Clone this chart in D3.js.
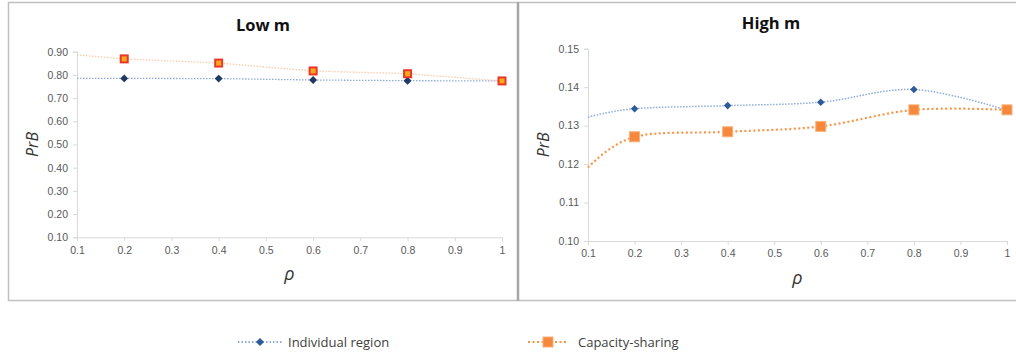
<!DOCTYPE html>
<html>
<head>
<meta charset="utf-8">
<script src="https://cdn.jsdelivr.net/npm/d3@7"></script>
<style>
  body { margin: 0; background: #fff; }
  svg { display: block; font-family: "Open Sans", "Liberation Sans", sans-serif; }
  .axis path, .axis line { stroke: #d9d9d9; }
  .axis text { fill: #595959; font-size: 10.5px; }
</style>
</head>
<body>
<div id="chart"></div>
<script>
// data
var rho = [0.1, 0.2, 0.4, 0.6, 0.8, 1];
var lowIndividual = [0.785, 0.785, 0.784, 0.778, 0.775, 0.774];
var lowCapacity   = [0.886, 0.869, 0.851, 0.817, 0.805, 0.774];
var highIndividual = [0.1322, 0.1344, 0.1352, 0.1361, 0.1394, 0.1340];
var highCapacity   = [0.1191, 0.1271, 0.1284, 0.1298, 0.1341, 0.1341];
var xTicks = [0.1, 0.2, 0.3, 0.4, 0.5, 0.6, 0.7, 0.8, 0.9, 1];
var yTicksLow = [0.1, 0.2, 0.3, 0.4, 0.5, 0.6, 0.7, 0.8, 0.9];
var yTicksHigh = [0.10, 0.11, 0.12, 0.13, 0.14, 0.15];
var seriesNames = ["Individual region", "Capacity-sharing"];

var width = 1016, height = 354;
var svg = d3.select('#chart').append('svg')
    .attr('width', width)
    .attr('height', height);

// panel frames
svg.append('rect').attr('x', 8.5).attr('y', 2.5).attr('width', 1020).attr('height', 298)
    .attr('fill', 'none').attr('stroke', '#c0c0c0').attr('stroke-width', 1.5);
svg.append('line').attr('x1', 518).attr('x2', 518).attr('y1', 2).attr('y2', 301)
    .attr('stroke', '#a6a6a6').attr('stroke-width', 2.5);

function drawPanel(opts) {
    var x = d3.scaleLinear().domain([0.1, 1]).range([opts.left, opts.right]);
    var y = d3.scaleLinear().domain(opts.yDomain).range([opts.bottom, opts.top]);

    svg.append('g')
        .attr('class', 'axis')
        .attr('transform', `translate(0,${opts.bottom})`)
        .call(d3.axisBottom(x).tickValues(xTicks).tickSize(4).tickPadding(5)
            .tickFormat(function(d) { return d === 1 ? '1' : d3.format('.1f')(d); }));

    svg.append('g')
        .attr('class', 'axis')
        .attr('transform', `translate(${opts.left},0)`)
        .call(d3.axisLeft(y).tickValues(opts.yTicks).tickSize(4).tickPadding(5)
            .tickFormat(d3.format('.2f')));

    // title and axis labels
    svg.append('text').attr('x', opts.titleX).attr('y', opts.titleY)
        .attr('text-anchor', 'middle').attr('font-size', 16.5).attr('font-weight', 'bold')
        .attr('fill', '#111').text(opts.title);
    svg.append('text')
        .attr('transform', `translate(${opts.yLabelX},${(opts.top + opts.bottom) / 2}) rotate(-90)`)
        .attr('text-anchor', 'middle').attr('font-size', 16).attr('font-style', 'italic')
        .attr('fill', '#333').text('PrB');
    svg.append('text').attr('x', (opts.left + opts.right) / 2).attr('y', opts.bottom + 43)
        .attr('text-anchor', 'middle').attr('font-size', 18).attr('font-style', 'italic')
        .attr('fill', '#333').text('ρ');

    var line = d3.line()
        .x(function(d, i) { return x(rho[i]); })
        .y(function(d) { return y(d); })
        .curve(opts.smooth ? d3.curveCardinal.tension(0) : d3.curveLinear);

    svg.append('path').datum(opts.individual)
        .attr('d', line).attr('fill', 'none')
        .attr('stroke', '#8eaadb').attr('stroke-width', opts.blueWidth)
        .attr('stroke-dasharray', opts.blueDash);
    svg.append('path').datum(opts.capacity)
        .attr('d', line).attr('fill', 'none')
        .attr('stroke', opts.orangeLine).attr('stroke-width', opts.orangeWidth)
        .attr('stroke-dasharray', opts.orangeDash);

    // markers (first point has none)
    var pts = rho.slice(1);
    svg.append('g').selectAll('path')
        .data(pts)
        .enter()
        .append('path')
        .attr('d', d3.symbol().type(d3.symbolDiamond2).size(opts.diamondSize))
        .attr('transform', function(d, i) { return `translate(${x(d)},${y(opts.individual[i + 1])})`; })
        .attr('fill', opts.diamondFill);

    var s = opts.squareSize;
    svg.append('g').selectAll('rect')
        .data(pts)
        .enter()
        .append('rect')
        .attr('x', function(d) { return x(d) - s / 2; })
        .attr('y', function(d, i) { return y(opts.capacity[i + 1]) - s / 2; })
        .attr('width', s).attr('height', s)
        .attr('fill', opts.squareFill)
        .attr('stroke', opts.squareStroke).attr('stroke-width', opts.squareStrokeWidth);
}

drawPanel({
    left: 77, right: 502, top: 51.7, bottom: 237.3,
    yDomain: [0.1, 0.9], yTicks: yTicksLow,
    title: 'Low m', titleX: 263, titleY: 31, yLabelX: 38,
    individual: lowIndividual, capacity: lowCapacity, smooth: false,
    blueWidth: 1.3, blueDash: '1.5,1.5',
    orangeLine: '#f8cbad', orangeWidth: 1.3, orangeDash: '1.5,1.5',
    diamondSize: 40, diamondFill: '#1f3864',
    squareSize: 7, squareFill: '#f7a81b', squareStroke: '#e8382a', squareStrokeWidth: 2
});

drawPanel({
    left: 588, right: 1007, top: 48.7, bottom: 241,
    yDomain: [0.1, 0.15], yTicks: yTicksHigh,
    title: 'High m', titleX: 771, titleY: 29, yLabelX: 549,
    individual: highIndividual, capacity: highCapacity, smooth: true,
    blueWidth: 1.5, blueDash: '1.5,1.5',
    orangeLine: '#f79646', orangeWidth: 2.2, orangeDash: '2,2.5',
    diamondSize: 36, diamondFill: '#2e5c9a',
    squareSize: 10, squareFill: '#f5883b', squareStroke: '#f7b27c', squareStrokeWidth: 1
});

// legend
var legend = svg.append('g').attr('transform', 'translate(0,342)');
legend.append('line').attr('x1', 238).attr('x2', 283).attr('y1', 0).attr('y2', 0)
    .attr('stroke', '#8eaadb').attr('stroke-width', 2).attr('stroke-dasharray', '1.5,2');
legend.append('path').attr('d', d3.symbol().type(d3.symbolDiamond2).size(40))
    .attr('transform', 'translate(260,0)').attr('fill', '#2e5c9a');
legend.append('text').attr('x', 288).attr('y', 4.5).attr('font-size', 13)
    .attr('fill', '#404040').text(seriesNames[0]);

legend.append('line').attr('x1', 528).attr('x2', 568).attr('y1', 0).attr('y2', 0)
    .attr('stroke', '#f79646').attr('stroke-width', 2.2).attr('stroke-dasharray', '2,2.5');
legend.append('rect').attr('x', 543).attr('y', -5).attr('width', 10).attr('height', 10)
    .attr('fill', '#f5883b').attr('stroke', '#f7b27c');
legend.append('text').attr('x', 578).attr('y', 4.5).attr('font-size', 13)
    .attr('fill', '#404040').text(seriesNames[1]);
</script>
</body>
</html>
